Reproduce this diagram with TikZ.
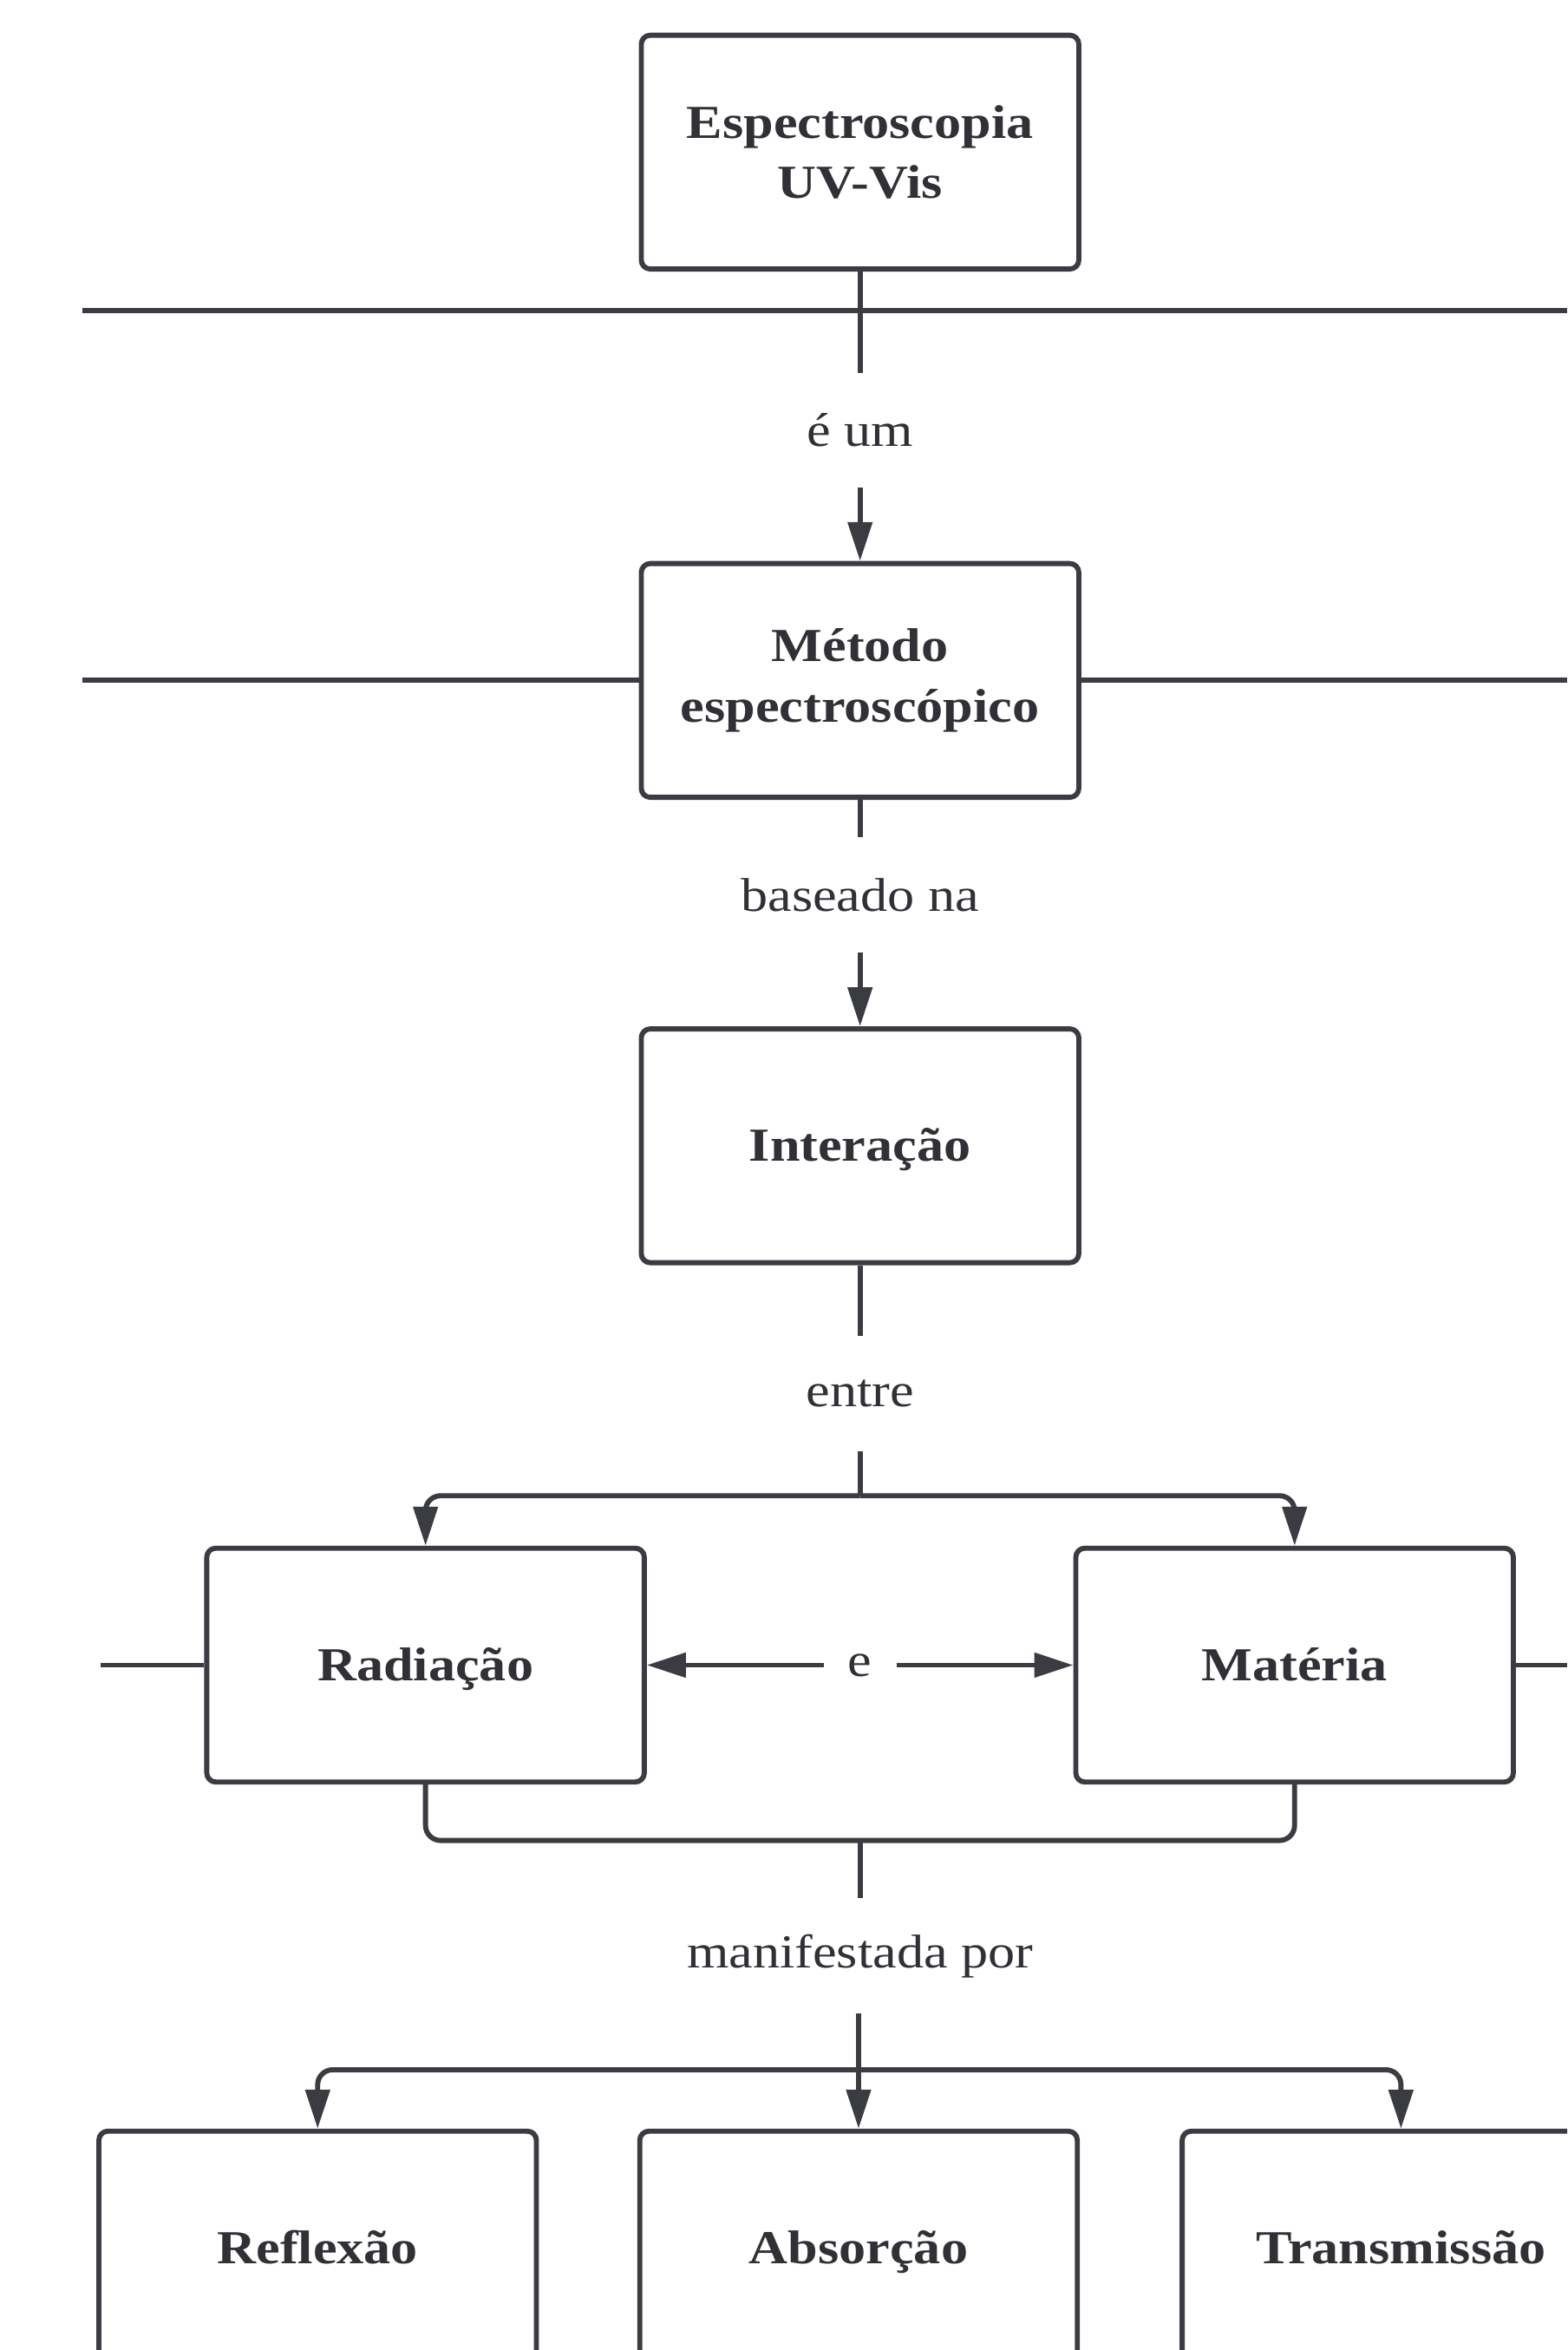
\documentclass[tikz,border=0pt]{standalone}
\usepackage{fontspec}
\setmainfont{Liberation Serif}[FakeStretch=1.14]
\usetikzlibrary{arrows.meta}
\definecolor{ink}{HTML}{3A3C42}
\definecolor{textink}{HTML}{303136}
\begin{document}
\begin{tikzpicture}[x=0.5pt,y=-0.5pt,
  concept/.style={draw=ink, line width=1.7pt, rounded corners=3pt,
    minimum width=146pt, minimum height=78pt, align=center,
    font=\fontsize{15.8}{20}\selectfont\bfseries, text=textink, inner sep=0pt},
  oneline/.style={text height=1.28em, text depth=0.24em},
  link/.style={font=\fontsize{15.8}{20}\selectfont, text=textink,
    inner sep=0pt, minimum height=38pt},
  wire/.style={draw=ink, line width=1.7pt},
  tip/.style={wire, -{Triangle[length=13pt,width=8pt]}},
]
\useasboundingbox (0,0) rectangle (1046,1568);
\clip (0,0) rectangle (1046,1568);

% concepts
\node[concept] (spec)   at (574,101.5) {Espectroscopia\\UV-Vis};
\node[concept] (metodo) at (574,454)   {Método\\espectroscópico};
\node[concept, oneline] (inter)  at (574,764.5) {Interação};
\node[concept, oneline] (rad)    at (284,1111)  {Radiação};
\node[concept, oneline] (mat)    at (864,1111)  {Matéria};
\node[concept, oneline] (refl)   at (212,1500)  {Reflexão};
\node[concept, oneline] (absr)   at (573,1500)  {Absorção};
\node[concept, oneline] (trans)  at (935,1500)  {Transmissão};

% linking phrases
\node[link] (l1) at (574,287)  {é um};
\node[link] (l2) at (574,597)  {baseado na};
\node[link] (l3) at (574,930)  {entre};
\node[link, minimum width=24pt] (l4) at (574,1111) {e};
\node[link] (l5) at (574,1305) {manifestada por};

% junction points and free ends
\coordinate (split1) at (574,998);
\coordinate (merge)  at (574,1228);
\coordinate (split2) at (573,1381);
\coordinate (hl1w) at (55,207);
\coordinate (hl1e) at (1046,207);
\coordinate (hl2w) at (55,454);
\coordinate (hl2e) at (1046,454);
\coordinate (hl3w) at (67,1111);
\coordinate (hl3e) at (1046,1111);

% side lines
\draw[wire] (hl1w) -- (hl1e);
\draw[wire] (hl2w) -- (metodo.west);
\draw[wire] (metodo.east) -- (hl2e);
\draw[wire] (hl3w) -- (rad.west);
\draw[wire] (mat.east) -- (hl3e);

% main chain
\draw[wire] (spec.south) -- (l1.north);
\draw[tip]  (l1.south) -- (metodo.north);
\draw[wire] (metodo.south) -- (l2.north);
\draw[tip]  (l2.south) -- (inter.north);
\draw[wire] (inter.south) -- (l3.north);
\draw[wire] (l3.south) -- (split1);
\draw[tip, rounded corners=5pt] (split1) -| (rad.north);
\draw[tip, rounded corners=5pt] (split1) -| (mat.north);

% radiation and matter
\draw[tip] (l4.west) -- (rad.east);
\draw[tip] (l4.east) -- (mat.west);

% manifestations
\draw[wire, rounded corners=5pt] (rad.south) |- (merge) -| (mat.south);
\draw[wire] (merge) -- (l5.north);
\draw[tip]  (l5.south -| split2) -- (absr.north);
\draw[tip, rounded corners=5pt] (split2) -| (refl.north);
\draw[tip, rounded corners=5pt] (split2) -| (trans.north);
\end{tikzpicture}
\end{document}
